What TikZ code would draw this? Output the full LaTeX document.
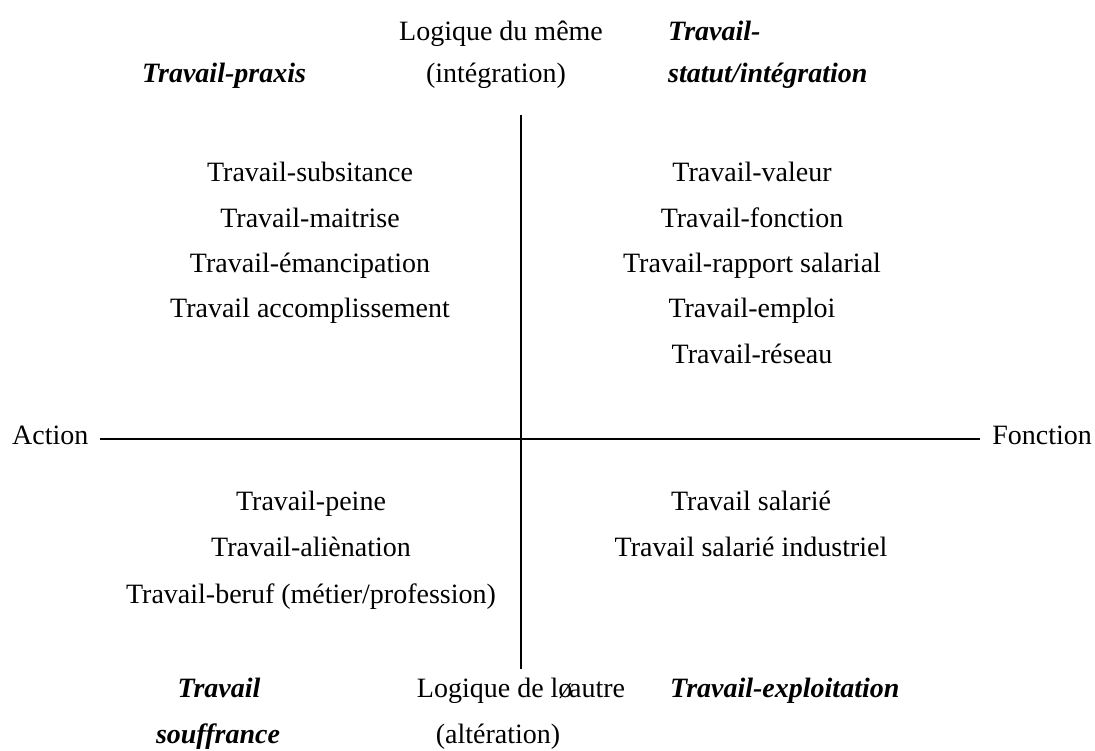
\documentclass[tikz,border=0pt]{standalone}
\usepackage{fontspec}
\setmainfont{Liberation Serif}
\begin{document}
\begin{tikzpicture}
      [x=1pt,y=-1pt
      ,txt/.style={inner sep=0pt,anchor=base,font=\fontsize{28}{34}\selectfont}
      ,pole/.style={txt,font=\fontsize{28}{34}\selectfont\bfseries\itshape}
      ,axe/.style={color=black,line width=2.6pt}
      ]
        \useasboundingbox (0,0) rectangle (1095,751);

        % axes
        \coordinate (haut) at (521,115);
        \coordinate (bas) at (521,669);
        \coordinate (gauche) at (100,439);
        \coordinate (droite) at (980,439);
        \draw[axe] (haut) -- (bas);
        \draw[axe] (gauche) -- (droite);

        \node[txt,anchor=base west] (action) at (12,444) {Action};
        \node[txt,anchor=base east] (fonction) at (1092,444) {Fonction};

        % haut
        \node[txt] (meme) at (501,41) {Logique du même};
        \node[txt] (integ) at (496,83) {(intégration)};
        \node[pole] (praxis) at (224,83) {Travail-praxis};
        \node[pole,anchor=base west] (statutA) at (668,41) {Travail-};
        \node[pole,anchor=base west] (statutB) at (668,83) {statut/intégration};

        % bas
        \node[txt] (autre) at (521,697) {Logique de lø\kern-.12em autre};
        \node[txt] (alter) at (498,743) {(altération)};
        \node[pole] (souffA) at (219,697) {Travail};
        \node[pole] (souffB) at (218,743) {souffrance};
        \node[pole,anchor=base west] (exploit) at (670,697) {Travail-exploitation};

        % quadrants
        \foreach \t [count=\i] in {Travail-subsitance,Travail-maitrise,Travail-émancipation,Travail accomplissement}{
            \node[txt] (hg\i) at (310,{182+45.3*(\i-1)}) {\t};
        }
        \foreach \t [count=\i] in {Travail-valeur,Travail-fonction,Travail-rapport salarial,Travail-emploi,Travail-réseau}{
            \node[txt] (hd\i) at (752,{182+45.3*(\i-1)}) {\t};
        }
        \foreach \t [count=\i] in {Travail-peine,Travail-aliènation,Travail-beruf (métier/profession)}{
            \node[txt] (bg\i) at (311,{510+46.5*(\i-1)}) {\t};
        }
        \foreach \t [count=\i] in {Travail salarié,Travail salarié industriel}{
            \node[txt] (bd\i) at (751,{510+46.5*(\i-1)}) {\t};
        }
      \end{tikzpicture}
\end{document}
